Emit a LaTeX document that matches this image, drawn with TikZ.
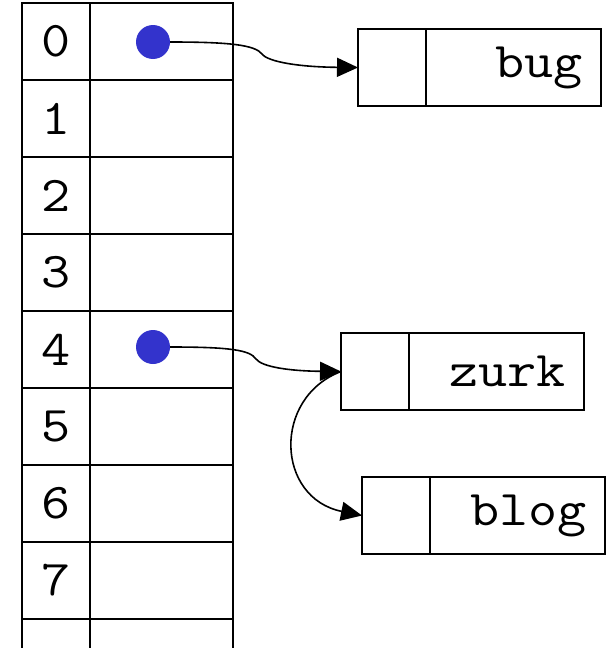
\documentclass[tikz,border=0pt]{standalone}
\usepackage{fontspec}
\newfontfamily\cellfont[FakeStretch=1.13]{Latin Modern Mono}
\usetikzlibrary{arrows.meta}
\definecolor{dotblue}{RGB}{51,51,204}
\tikzset{
  grid/.style={draw, line width=1.8pt, inner sep=0pt, outer sep=0pt, anchor=north west,
    font=\cellfont\fontsize{50}{50}\selectfont},
  idxcell/.style={grid, minimum width=68pt, minimum height=77pt},
  slotcell/.style={grid, minimum width=143pt, minimum height=77pt},
  ptrcell/.style={grid, minimum width=68pt, minimum height=77pt},
  datacell/.style={grid, minimum height=77pt, text width=139pt, align=right, inner xsep=18pt},
  dot/.style={circle, fill=dotblue, minimum size=34pt, inner sep=0pt},
  link/.style={line width=1.6pt, -{Triangle[length=21pt, width=19pt]}}
}
\begin{document}
\begin{tikzpicture}[x=1pt, y=-1pt]
\useasboundingbox (0,0) rectangle (608,648);
\clip (0,0) rectangle (608,648);

% hash table: index column and slot column
\foreach \k in {0,...,7} {
  \node[idxcell] (i\k) at (22,{3+77*\k}) {\k};
  \node[slotcell] (s\k) at (90,{3+77*\k}) {};
}
\node[idxcell] (i8) at (22,619) {};
\node[slotcell] (s8) at (90,619) {};

% list cells
\node[ptrcell] (bugp) at (358,29) {};
\node[datacell] (bugd) at (bugp.north east) {bug};
\node[ptrcell] (zurkp) at (341,333) {};
\node[datacell] (zurkd) at (zurkp.north east) {zurk};
\node[ptrcell] (blogp) at (362,477) {};
\node[datacell] (blogd) at (blogp.north east) {blog};

% pointers
\node[dot] (d0) at (153,42) {};
\node[dot] (d4) at (153,347) {};

\draw[link] (d0.east) .. controls (230,42) and (255,45) .. (262,54)
  .. controls (268,62) and (300,67) .. (bugp.west);
\draw[link] (d4.east) .. controls (230,347) and (250,350) .. (256,359)
  .. controls (262,367) and (290,371) .. (zurkp.west);
\draw[link] (zurkp.west) .. controls (272,398) and (276,498) .. (blogp.west);
\end{tikzpicture}
\end{document}
